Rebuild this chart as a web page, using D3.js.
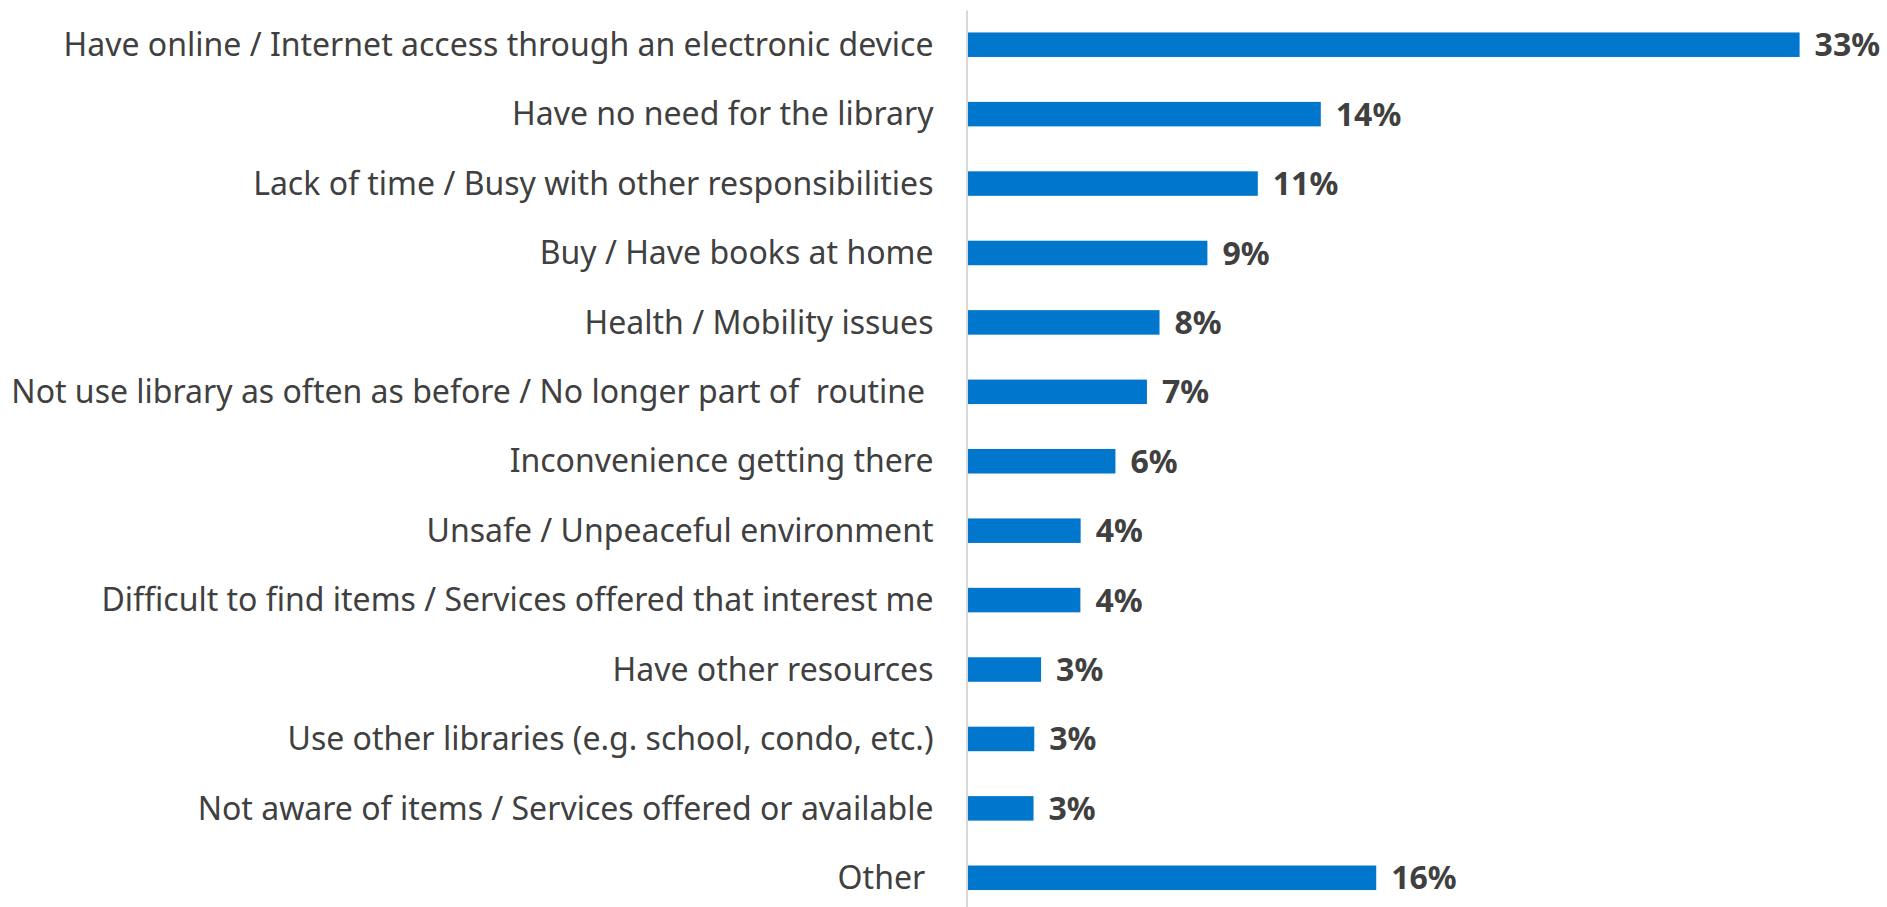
<!DOCTYPE html>
<html>
<head>
<meta charset="utf-8">
<script src="https://cdn.jsdelivr.net/npm/d3@7"></script>
<style>
  html, body { margin: 0; padding: 0; background: #fff; }
  svg { display: block; }
  .tick text { white-space: pre; }
</style>
</head>
<body>
<svg id="chart" width="1887" height="907"></svg>
<script>
const categories = [
  "Have online / Internet access through an electronic device",
  "Have no need for the library",
  "Lack of time / Busy with other responsibilities",
  "Buy / Have books at home",
  "Health / Mobility issues",
  "Not use library as often as before / No longer part of  routine ",
  "Inconvenience getting there",
  "Unsafe / Unpeaceful environment",
  "Difficult to find items / Services offered that interest me",
  "Have other resources",
  "Use other libraries (e.g. school, condo, etc.)",
  "Not aware of items / Services offered or available",
  "Other "
];
const values = [33.0, 14.0, 11.5, 9.5, 7.6, 7.1, 5.85, 4.47, 4.46, 2.9, 2.63, 2.6, 16.2];
const valueLabels = ["33%", "14%", "11%", "9%", "8%", "7%", "6%", "4%", "4%", "3%", "3%", "3%", "16%"];

const svg = d3.select("#chart");
const font = "'Noto Sans', 'Open Sans', sans-serif";

const x = d3.scaleLinear().domain([0, 35]).range([968, 1850]);
const y = d3.scaleBand().domain(categories).range([10, 912.5])
  .paddingInner(0.647).paddingOuter(0.3235);

// bars
svg.append("g").selectAll("rect").data(values).join("rect")
  .attr("x", x(0))
  .attr("y", (d, i) => y(categories[i]))
  .attr("width", d => x(d) - x(0))
  .attr("height", y.bandwidth())
  .attr("fill", "#0077cc");

// axis with category labels
const axis = svg.append("g")
  .attr("transform", "translate(966.5,0)")
  .call(d3.axisLeft(y).tickSize(0).tickSizeOuter(0).tickPadding(33));
axis.select(".domain").attr("stroke", "#d9d9d9").attr("stroke-width", 2);
axis.selectAll(".tick text")
  .attr("fill", "#404040")
  .style("font-family", font)
  .style("font-size", "32px")
  .attr("dy", "0.35em");

// value labels
svg.append("g").selectAll("text").data(values).join("text")
  .attr("x", d => x(d) + 15)
  .attr("y", (d, i) => y(categories[i]) + y.bandwidth() / 2)
  .attr("dy", "0.36em")
  .attr("fill", "#404040")
  .style("font-family", font)
  .style("font-size", "32px")
  .style("font-weight", "bold")
  .text((d, i) => valueLabels[i]);
</script>
</body>
</html>
